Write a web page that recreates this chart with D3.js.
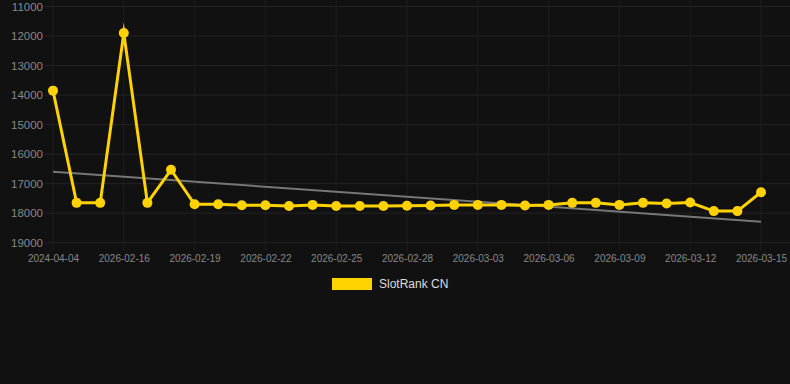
<!DOCTYPE html>
<html>
<head>
<meta charset="utf-8">
<script src="https://cdn.jsdelivr.net/npm/d3@7"></script>
<style>
    html, body { margin: 0; padding: 0; background: #111111; }
    svg { display: block; font-family: "Liberation Sans", Arial, sans-serif; }
</style>
</head>
<body>
<div class="chart-container"></div>
<script>
// data
const dates = [
    '2024-04-04', '2026-02-14', '2026-02-15', '2026-02-16', '2026-02-17', '2026-02-18',
    '2026-02-19', '2026-02-20', '2026-02-21', '2026-02-22', '2026-02-23', '2026-02-24',
    '2026-02-25', '2026-02-26', '2026-02-27', '2026-02-28', '2026-03-01', '2026-03-02',
    '2026-03-03', '2026-03-04', '2026-03-05', '2026-03-06', '2026-03-07', '2026-03-08',
    '2026-03-09', '2026-03-10', '2026-03-11', '2026-03-12', '2026-03-13', '2026-03-14',
    '2026-03-15'
];
const rankValues = [
    13850, 17650, 17650, 11900, 17650, 16530,
    17700, 17700, 17730, 17730, 17760, 17720,
    17760, 17760, 17760, 17750, 17740, 17720,
    17720, 17720, 17740, 17720, 17650, 17650,
    17720, 17650, 17670, 17640, 17930, 17930,
    17290
];
const trendValues = [16595, 18290];   // first / last date
const yTicks = [11000, 12000, 13000, 14000, 15000, 16000, 17000, 18000, 19000];
const xTickLabels = dates.filter((d, i) => i % 3 === 0);
const seriesName = 'SlotRank CN';

const svg_width = 790;
const svg_height = 384;
const lineColor = '#ffd200';

const svg = d3.select('.chart-container')
    .append('svg')
    .attr('width', svg_width)
    .attr('height', svg_height);

svg.append('rect')
    .attr('width', svg_width)
    .attr('height', svg_height)
    .attr('fill', '#111111');

//scales
const xScale = d3.scalePoint()
    .domain(dates)
    .range([53, 761]);
const yScale = d3.scaleLinear()
    .domain([11000, 19000])
    .range([6.5, 242.7]);

//grid
const grid = svg.append('g').attr('class', 'grid');
grid.selectAll('.hgrid')
    .data(yTicks)
    .enter()
    .append('line')
    .attr('x1', 45)
    .attr('x2', svg_width)
    .attr('y1', d => yScale(d))
    .attr('y2', d => yScale(d))
    .attr('stroke', '#232323')
    .attr('stroke-width', 1);
grid.selectAll('.vgrid')
    .data(xTickLabels)
    .enter()
    .append('line')
    .attr('x1', d => xScale(d))
    .attr('x2', d => xScale(d))
    .attr('y1', 0)
    .attr('y2', yScale(19000) + 8)
    .attr('stroke', '#1e1e1e')
    .attr('stroke-width', 1);

//axes
const yAxis = d3.axisLeft(yScale)
    .tickValues(yTicks)
    .tickFormat(d => d)
    .tickSize(0);
const yAxisDraw = svg.append('g')
    .attr('class', 'y axis')
    .attr('transform', 'translate(43,0)')
    .call(yAxis);
yAxisDraw.select('.domain').remove();
yAxisDraw.selectAll('text')
    .attr('x', 0)
    .attr('fill', '#888')
    .style('font-size', '11.5px');

const xAxis = d3.axisBottom(xScale)
    .tickValues(xTickLabels)
    .tickSize(0);
const xAxisDraw = svg.append('g')
    .attr('class', 'x axis')
    .attr('transform', `translate(0,${yScale(19000)})`)
    .call(xAxis);
xAxisDraw.select('.domain').remove();
xAxisDraw.selectAll('text')
    .attr('y', 12)
    .attr('fill', '#888')
    .style('font-size', '10px');

//trend line
svg.append('line')
    .attr('x1', xScale(dates[0]))
    .attr('x2', xScale(dates[dates.length - 1]))
    .attr('y1', yScale(trendValues[0]))
    .attr('y2', yScale(trendValues[1]))
    .attr('stroke', '#777')
    .attr('stroke-width', 2);

//series
const line = d3.line()
    .x((d, i) => xScale(dates[i]))
    .y(d => yScale(d));
svg.append('path')
    .datum(rankValues)
    .attr('d', line)
    .attr('fill', 'none')
    .attr('stroke', lineColor)
    .attr('stroke-width', 3)
    .attr('stroke-linejoin', 'miter')
    .attr('stroke-miterlimit', 10);

svg.selectAll('.dot')
    .data(rankValues)
    .enter()
    .append('circle')
    .attr('class', 'dot')
    .attr('cx', (d, i) => xScale(dates[i]))
    .attr('cy', d => yScale(d))
    .attr('r', 5)
    .attr('fill', lineColor);

//legend
const legend = svg.append('g')
    .attr('class', 'legend')
    .attr('transform', 'translate(332,278)');
legend.append('rect')
    .attr('width', 40)
    .attr('height', 12)
    .attr('fill', lineColor);
legend.append('text')
    .attr('x', 47)
    .attr('y', 6)
    .attr('dy', '0.35em')
    .attr('fill', '#ddd')
    .style('font-size', '12px')
    .text(seriesName);
</script>
</body>
</html>
